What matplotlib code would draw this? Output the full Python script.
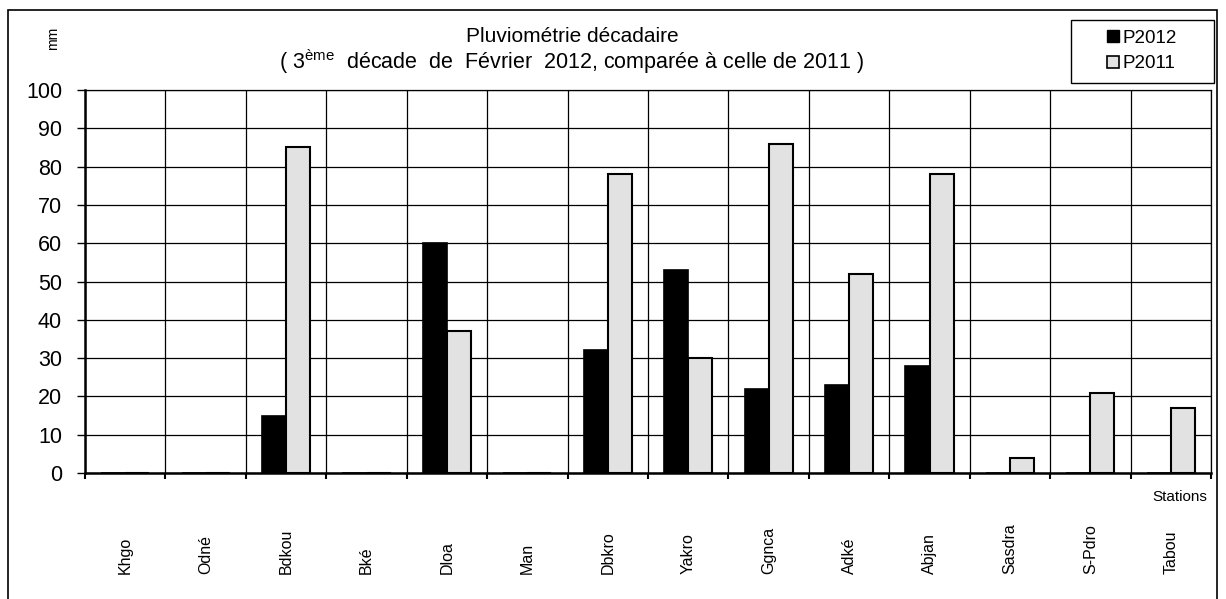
import matplotlib
matplotlib.use("Agg")
import matplotlib.pyplot as plt
from matplotlib.patches import Patch, Rectangle
import numpy as np

plt.rcParams["font.family"] = ["Liberation Sans", "DejaVu Sans"]
plt.rcParams["mathtext.fontset"] = "custom"
plt.rcParams["mathtext.rm"] = "Liberation Sans"

stations = ["Khgo", "Odné", "Bdkou", "Bké", "Dloa", "Man", "Dbkro",
            "Yakro", "Ggnca", "Adké", "Abjan", "Sasdra", "S-Pdro", "Tabou"]
p2012 = [0, 0, 15, 0, 60, 0, 32, 53, 22, 23, 28, 0, 0, 0]
p2011 = [0, 0, 85, 0, 37, 0, 78, 30, 86, 52, 78, 4, 21, 17]
y_ticks = list(range(0, 101, 10))

W, H = 1226, 599
fig = plt.figure(figsize=(W / 100, H / 100), dpi=100)
ax = fig.add_axes([85 / W, (H - 473) / H, (1211 - 85) / W, 383 / H])

x = np.arange(len(stations))
bw = 0.3
ax.bar(x - bw / 2, p2012, bw, color="black", edgecolor="black", linewidth=1.2, zorder=3)
ax.bar(x + bw / 2, p2011, bw, color="#e2e2e2", edgecolor="black", linewidth=1.5, zorder=3)

ax.set_xlim(-0.5, len(stations) - 0.5)
ax.set_ylim(0, 100)
ax.set_yticks(y_ticks)
ax.set_yticklabels([str(v) for v in y_ticks], fontsize=15.5)
ax.tick_params(axis="y", direction="out", length=6, width=1, pad=10.5)

ax.set_xticks(np.arange(len(stations) + 1) - 0.5)
ax.set_xticklabels([])
ax.set_xticks(x, minor=True)
ax.set_xticklabels(stations, minor=True, rotation=90, fontsize=11.5, va="bottom")
ax.tick_params(axis="x", which="major", direction="out", length=4, width=1.5)
ax.tick_params(axis="x", which="minor", length=0, pad=73)

ax.grid(True, which="major", color="black", linewidth=0.9, zorder=0)
ax.set_axisbelow(True)
for side in ["left", "bottom"]:
    ax.spines[side].set_linewidth(1.8)
for side in ["top", "right"]:
    ax.spines[side].set_linewidth(0.9)

# outer frame of the chart area
fig.patches.append(Rectangle((8 / W, -0.05), (1217 - 8) / W, 1.05 - 10 / H,
                             transform=fig.transFigure, fill=False,
                             edgecolor="black", linewidth=1.2))

fig.text(572 / W, 1 - 37 / H, "Pluviométrie décadaire", ha="center", va="center", fontsize=15)
fig.text(572 / W, 1 - 62 / H,
         "( 3$^{\\mathrm{ème}}$  décade  de  Février  2012, comparée à celle de 2011 )",
         ha="center", va="center", fontsize=15.5)
fig.text(53 / W, 1 - 38 / H, "mm", rotation=90, ha="center", va="center", fontsize=10)
fig.text(1180 / W, 1 - 497 / H, "Stations", ha="center", va="center", fontsize=11)

# legend box
fig.patches.append(Rectangle((1071 / W, 1 - 83 / H), (1214 - 1071) / W, 63 / H,
                             transform=fig.transFigure, fill=False,
                             edgecolor="black", linewidth=1))
handles = [Patch(facecolor="black", edgecolor="black", label="P2012"),
           Patch(facecolor="#e2e2e2", edgecolor="black", linewidth=1.2, label="P2011")]
fig.legend(handles=handles, loc="center", bbox_to_anchor=(1142 / W, 1 - 51 / H),
           frameon=False, fontsize=13.5, handlelength=0.6, handleheight=0.6,
           handletextpad=0.2, labelspacing=0.45)

fig.savefig("out.png", dpi=100)
